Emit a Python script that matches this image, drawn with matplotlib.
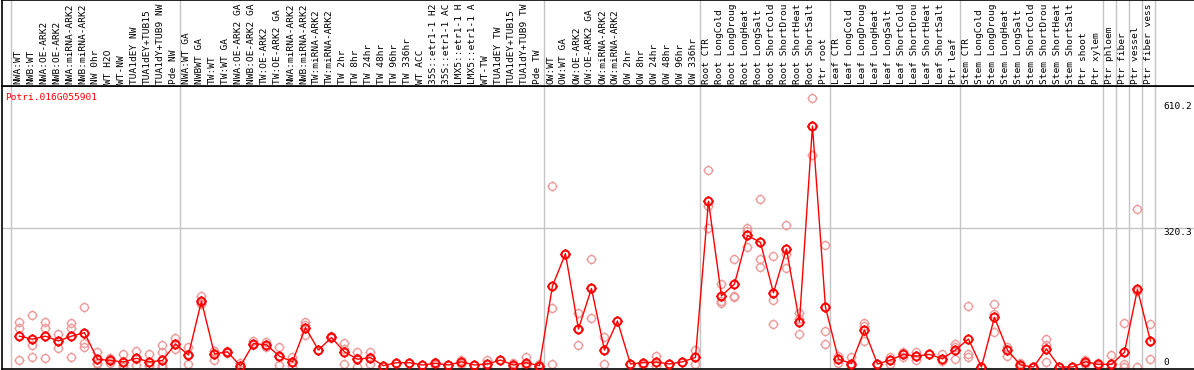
import matplotlib
matplotlib.use("Agg")
import matplotlib.pyplot as plt
from matplotlib.path import Path

# sample labels, as shown in the header (cut to 14 chars like the original)
labels = ["NWA:WT", "NWB:WT", "NWA:OE-ARK2", "NWB:OE-ARK2", "NWA:miRNA-ARK2", "NWB:miRNA-ARK2",
          "NW 0hr", "WT H2O", "WT-NW", "TUA1dEY NW", "TUA1dEY+TUB15", "TUA1dY+TUB9 NW", "Pde NW",
          "NWA:WT GA", "NWBWT GA", "TW:WT", "TW:WT GA", "NWA:OE-ARK2 GA", "NWB:OE-ARK2 GA",
          "TW:OE-ARK2", "TW:OE-ARK2 GA", "NWA:miRNA-ARK2", "NWB:miRNA-ARK2", "TW:miRNA-ARK2",
          "TW:miRNA-ARK2", "TW 2hr", "TW 8hr", "TW 24hr", "TW 48hr", "TW 96hr", "TW 336hr",
          "WT ACC", "35S::etr1-1 H2", "35S::etr1-1 AC", "LMX5::etr1-1 H", "LMX5::etr1-1 A",
          "WT-TW", "TUA1dEY TW", "TUA1dEY+TUB15", "TUA1dY+TUB9 TW", "Pde TW",
          "OW:WT", "OW:WT GA", "OW:OE-ARK2", "OW:OE-ARK2 GA", "OW:miRNA-ARK2", "OW:miRNA-ARK2",
          "OW 2hr", "OW 8hr", "OW 24hr", "OW 48hr", "OW 96hr", "OW 336hr",
          "Root CTR", "Root LongCold", "Root LongDroug", "Root LongHeat", "Root LongSalt",
          "Root ShortCold", "Root ShortDrou", "Root ShortHeat", "Root ShortSalt", "Ptr root",
          "Leaf CTR", "Leaf LongCold", "Leaf LongDroug", "Leaf LongHeat", "Leaf LongSalt",
          "Leaf ShortCold", "Leaf ShortDrou", "Leaf ShortHeat", "Leaf ShortSalt", "Ptr leaf",
          "Stem CTR", "Stem LongCold", "Stem LongDroug", "Stem LongHeat", "Stem LongSalt",
          "Stem ShortCold", "Stem ShortDrou", "Stem ShortHeat", "Stem ShortSalt", "Ptr shoot",
          "Ptr xylem", "Ptr phloem", "Ptr fiber", "Ptr vessel", "Ptr fiber vess"]
group_sizes = [13, 28, 12, 10, 10, 11, 1, 1, 1, 1]

means = [71, 64, 71, 60, 71, 79, 18, 15, 11.5, 20, 12, 15, 53,
         27.6, 152, 30, 35, 2.3, 54, 51, 25, 12, 91, 39, 68, 35, 18, 21.5, 3, 10, 10,
         4.6, 8.4, 4.6, 12, 4.6, 7, 16, 4.6, 10, 3,
         186.6, 261, 87.5, 181, 39, 106, 7, 10, 11.5, 7, 12, 22,
         382, 164, 191, 303, 287, 171, 272, 104, 555, 138,
         18, 8, 85, 7, 16, 29, 25, 29, 19, 39,
         64.5, 0, 114.5, 39, 4.6, 0, 41.5, 0, 0, 12, 6,
         6, 34, 179, 60]

reps = [[104, 90, 15], [120, 51, 22], [104, 90, 20], [76, 43, 60], [102, 90, 22],
        [138, 45, 55], [34, 10, 7], [20, 14, 10], [30, 0, 5], [37, 5, 18], [30, 2, 5],
        [51, 35, 4, 0, 0], [66, 41, 53],
        [46, 8, 29], [164, 145, 147], [38, 16, 36], [36, 33], [10, 0], [60, 50], [57, 46],
        [47, 5, 24], [22, 2, 12], [103, 73, 97], [39], [72, 66], [56, 8, 41], [35, 0, 20],
        [35, 8, 22], [3], [10], [10], [5], [12, 5], [5], [16, 8], [5], [15, 0], [16],
        [10, 0], [24, 0, 5], [8, 0],
        [417, 135, 6], [261], [124, 51, 88], [249, 112, 182], [70, 8, 39], [106], [7],
        [10, 5], [25, 3], [7], [12], [39, 7, 22],
        [455, 320, 372], [191, 153, 147], [248, 161, 164], [320, 314, 276], [387, 249, 230],
        [256, 154, 99], [327, 260, 227], [125, 76, 111], [619, 488, 555], [281, 84, 53],
        [25, 10, 18], [22, 3], [102, 95, 60], [7], [24, 8], [35, 23], [35, 16], [29],
        [30, 14], [53, 18, 46],
        [140, 31, 24], [0], [145, 122, 80], [47, 25], [10, 0], [0], [64, 50, 12], [0], [0],
        [15, 8], [10, 2],
        [28, 0], [101, 8, 0], [363, 174, 0], [98, 18, 60]]

gene = "Potri.016G055901"
tick_vals = [610.2, 320.3, 0]

W, H = 1194, 370
fig = plt.figure(figsize=(W / 100, H / 100), dpi=100)
fig.patch.set_facecolor("white")
mono = "DejaVu Sans Mono"
grey = "#c4c4c4"
fs = 6.8

xlim = ((2 - 11) / 13, (1194 - 11) / 13)
ax = fig.add_axes([2 / W, 1 / H, 1192 / W, 283 / H])
hax = fig.add_axes([2 / W, 284 / H, 1192 / W, 86 / H])
ax.set_xlim(xlim)
ax.set_ylim(-2 / 0.434, 281 / 0.434)
hax.set_xlim(xlim)
hax.set_ylim(0, 86)

for a in (ax, hax):
    a.set_xticks([])
    a.set_yticks([])
    a.spines["right"].set_visible(False)
    for s in ("left", "top", "bottom"):
        a.spines[s].set_color("black")
        a.spines[s].set_linewidth(1.2)

# group separators
b = 0
bounds = [0]
for g in group_sizes:
    b += g
    bounds.append(b)
for b in bounds:
    ax.axvline(b, color=grey, lw=1, zorder=1)
    hax.axvline(b, color=grey, lw=1, zorder=1)
ax.axhline(320.3, color=grey, lw=1, zorder=1)

# header labels
for i, lab in enumerate(labels):
    hax.text(i + 0.5, 1.5, lab, rotation=90, ha="center", va="bottom",
             family=mono, fontsize=fs, color="black")

# marker: open circle with small ticks
circle = Path.unit_circle()
ticks = Path([(0, 1), (0, 1.3), (0, -1), (0, -1.3), (1, 0), (1.3, 0), (-1, 0), (-1.3, 0)],
             [Path.MOVETO, Path.LINETO] * 4)
sun = Path.make_compound_path(circle, ticks)

xs = [i + 0.65 for i in range(len(means))]
rx, ry = [], []
for i, r in enumerate(reps):
    for v in r:
        rx.append(xs[i])
        ry.append(v)
ax.plot(rx, ry, ls="none", marker=sun, ms=7.3, mfc="none", mec="#ee9a9a", mew=1.0, zorder=2)
ax.plot(xs, means, color="red", lw=1, zorder=3)
ax.plot(xs, means, ls="none", marker=sun, ms=7.3, mfc="none", mec="red", mew=1.4, zorder=4)

# value labels on the right
tx = (1163 - 11) / 13
for v in tick_vals:
    ax.text(tx, v, "%g" % v if v == 0 else "%.1f" % v, ha="left",
            va="bottom" if v == 0 else "top", family=mono, fontsize=fs, color="black")

fig.text(5 / W, 1 - 97 / H, gene, ha="left", va="center", family=mono, fontsize=fs, color="red")

fig.savefig("out.png", dpi=100)
